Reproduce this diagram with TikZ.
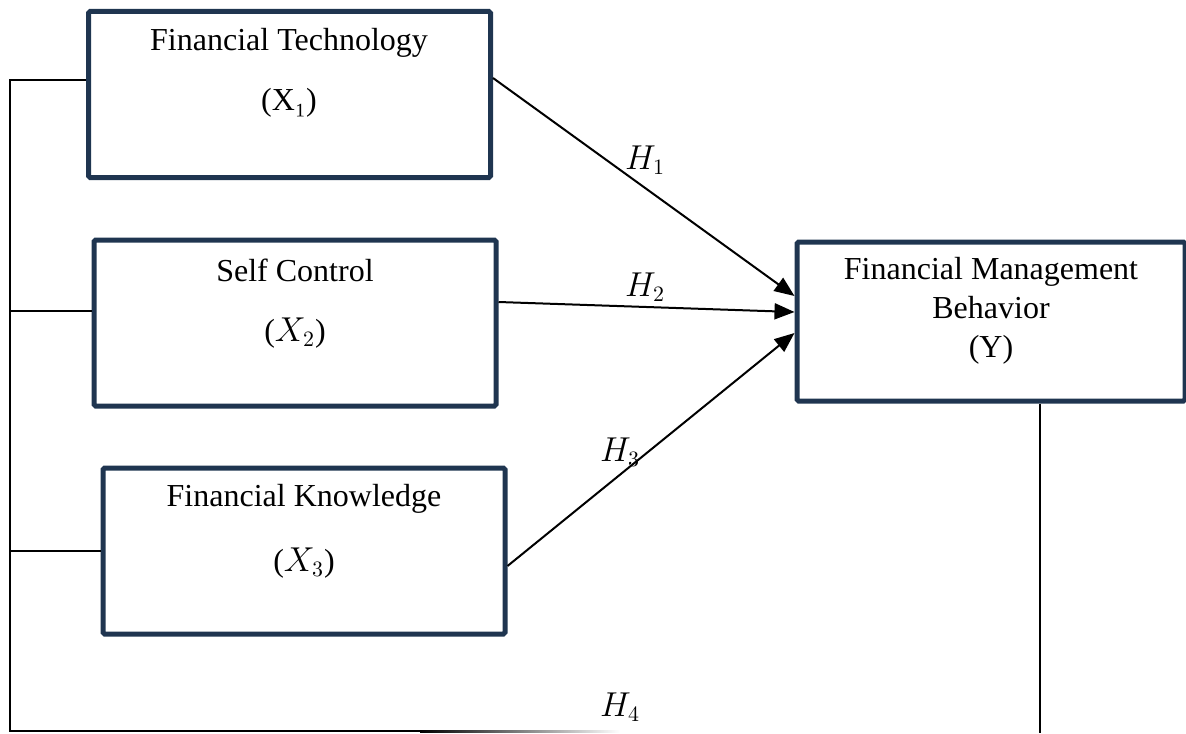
\documentclass[tikz,border=0pt]{standalone}
\usepackage{fontspec}
\setmainfont{Liberation Serif}
\usetikzlibrary{arrows.meta}
\definecolor{boxblue}{RGB}{31,53,80}

\begin{document}
\begin{tikzpicture}[x=0.5pt,y=-0.5pt,
    varbox/.style={draw=boxblue, line width=2.5pt, rounded corners=0.8pt, minimum width=201pt, minimum height=83pt, inner sep=0pt},
    lbl/.style={font=\fontsize{16}{19.5}\selectfont, inner sep=0pt, align=center},
    hyp/.style={-{Triangle[length=10pt,width=8pt]}, line width=1pt},
    bus/.style={line width=1pt}]
    \useasboundingbox (0,0) rectangle (1186,733);

    % boxes
    \node[varbox] (X1) at (289.5,94.5) {};
    \node[varbox] (X2) at (295,323) {};
    \node[varbox] (X3) at (304,551) {};
    \node[varbox, minimum width=194pt, minimum height=79.5pt] (Y) at (991,321.5) {};

    % texts
    \node[lbl] (X1name) at (289,43) {Financial Technology};
    \node[lbl] (X1sym) at (289,103) {(X₁)};
    \node[lbl] (X2name) at (295,270) {Self Control};
    \node[lbl] (X2sym) at (295,333) {($X_2$)};
    \node[lbl] (X3name) at (304,499) {Financial Knowledge};
    \node[lbl] (X3sym) at (304,563) {($X_3$)};
    \node[lbl] (Yname) at (991,311) {Financial Management\\Behavior\\(Y)};

    % hypotheses
    \draw[hyp] ([yshift=8.25pt]X1.east) -- ([yshift=12.75pt]Y.west);
    \draw[hyp] ([yshift=10.5pt]X2.east) -- ([yshift=4.75pt]Y.west);
    \draw[hyp] ([yshift=-7.5pt]X3.east) -- ([yshift=-5.75pt]Y.west);
    \node[lbl] (H1) at (645,160) {$H_1$};
    \node[lbl] (H2) at (645,287) {$H_2$};
    \node[lbl] (H3) at (620,452) {$H_3$};
    \node[lbl] (H4) at (620,707) {$H_4$};

    % left bus to Y (H4)
    \coordinate (busTop) at (10,80);
    \coordinate (bus2) at (10,311);
    \coordinate (bus3) at (10,551);
    \coordinate (busBot) at (10,731);
    \coordinate (busFade) at (420,731);
    \coordinate (yBot) at (1040,733);
    \draw[bus] (X1.west |- busTop) -- (busTop) -- (busBot) -- (busFade);
    \draw[bus] (bus2) -- (X2.west |- bus2);
    \draw[bus] (bus3) -- (X3.west |- bus3);
    \shade[left color=black, right color=white] (420,730) rectangle (620,732); % fading end
    \draw[bus] (Y.south -| yBot) -- (yBot);

\end{tikzpicture}
\end{document}
